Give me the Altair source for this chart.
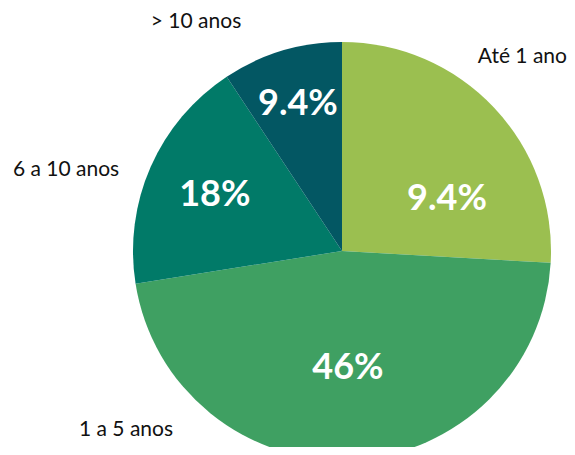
import altair as alt
import pandas as pd

categories = ["Até 1 ano", "1 a 5 anos", "6 a 10 anos", "> 10 anos"]
values = [25.9, 46.6, 18.2, 9.3]
pct_labels = ["9.4%", "46%", "18%", "9.4%"]
colors = ["#9BBF50", "#3FA062", "#017A68", "#035763"]

df = pd.DataFrame({
    "cat": categories,
    "value": values,
    "pct": pct_labels,
    "order": list(range(len(categories))),
})

W, H = 559, 439
CX, CY = 334, 243
R = 209

pie = alt.Chart(df).mark_arc(radius=R, stroke=None).encode(
    theta=alt.Theta("value:Q", stack=True),
    order=alt.Order("order:Q"),
    x=alt.value(CX),
    y=alt.value(CY),
    color=alt.Color("cat:N", scale=alt.Scale(domain=categories, range=colors), legend=None),
)

inner = alt.Chart(df).transform_joinaggregate(
    total="sum(value)"
).transform_window(
    cum="sum(value)", sort=[alt.SortField("order")], frame=[None, 0]
).transform_calculate(
    ang0="2 * PI * (datum.cum - datum.value / 2) / datum.total",
).transform_calculate(
    ang="datum.order == 0 ? datum.ang0 + 0.3 : datum.ang0",
    r="datum.value > 20 ? 117 : (datum.value > 15 ? 139 : 153)",
).mark_text(
    font="Lato", fontWeight="bold", fontSize=36, color="white",
    align="center", baseline="middle",
).encode(
    x=alt.value(CX),
    y=alt.value(CY),
    theta=alt.Theta("ang:Q", scale=None),
    radius=alt.Radius("r:Q", scale=None),
    text="pct:N",
)

# (x, y, align) for the outside category labels
outer_pos = {
    "> 10 anos": (188, 14, "center"),
    "Até 1 ano": (559, 49, "right"),
    "6 a 10 anos": (58, 162, "center"),
    "1 a 5 anos": (118, 422, "center"),
}
outer_layers = []
for c in categories:
    px, py, al = outer_pos[c]
    outer_layers.append(
        alt.Chart(df).transform_filter(alt.datum.cat == c).mark_text(
            font="Lato", fontSize=21, color="#111111",
            align=al, baseline="middle",
        ).encode(x=alt.value(px), y=alt.value(py), text="cat:N")
    )

chart = alt.layer(pie, inner, *outer_layers).properties(
    width=W, height=H, padding=0, autosize=alt.AutoSizeParams(type="none"),
).configure_view(stroke=None)

chart.save("out.html", embed_options={"renderer": "svg", "actions": False})
